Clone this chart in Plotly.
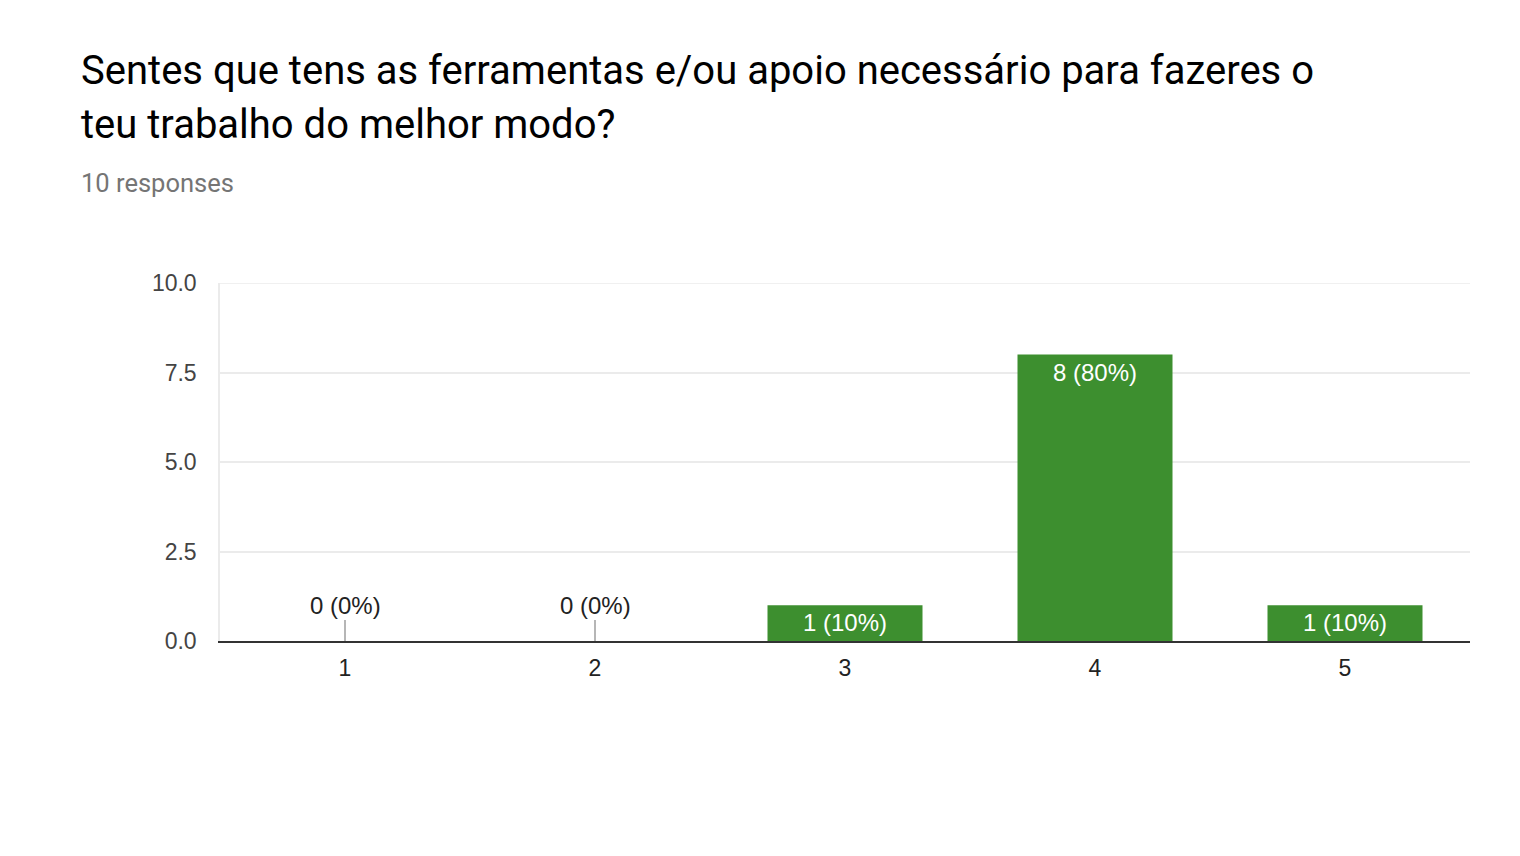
import plotly.graph_objects as go

categories = ["1", "2", "3", "4", "5"]
counts = [0, 0, 1, 8, 1]
percents = ["0%", "0%", "10%", "80%", "10%"]
y_ticks = [0, 2.5, 5, 7.5, 10]
y_tick_labels = ["0.0", "2.5", "5.0", "7.5", "10.0"]
title_lines = ["Sentes que tens as ferramentas e/ou apoio necessário para fazeres o",
               "teu trabalho do melhor modo?"]
subtitle = "10 responses"

GREEN = "#3d8f2f"
GRID = "#ebebeb"
W, H = 1520, 856
L, R, T, B = 220, 50, 283, 215
plot_h = H - T - B
plot_w = W - L - R

def px_x(p):
    return (p - L) / plot_w

def px_y(p):
    return (H - B - p) / plot_h

fig = go.Figure()
fig.add_trace(go.Bar(
    x=categories, y=counts, marker_color=GREEN, marker_line_width=0,
    hoverinfo="skip",
))

annotations = []
for i, (v, p) in enumerate(zip(counts, percents)):
    label = f"{v} ({p})"
    if v > 0:
        annotations.append(dict(
            x=i, y=v, xref="x", yref="y", text=label, showarrow=False,
            yanchor="top", yshift=-2,
            font=dict(family="Liberation Sans, Arial", size=24, color="white"),
        ))
    else:
        annotations.append(dict(
            x=i, y=v, xref="x", yref="y", text=label, showarrow=True,
            arrowhead=0, arrowwidth=1.5, arrowcolor="#9e9e9e", ax=0, ay=-36,
            font=dict(family="Liberation Sans, Arial", size=24, color="#222222"),
        ))

annotations.append(dict(
    x=px_x(79), y=px_y(70), xref="paper", yref="paper", text=title_lines[0],
    showarrow=False, xanchor="left", yanchor="middle",
    font=dict(family="Roboto", size=40, color="#000000"),
))
annotations.append(dict(
    x=px_x(79), y=px_y(124), xref="paper", yref="paper", text=title_lines[1],
    showarrow=False, xanchor="left", yanchor="middle",
    font=dict(family="Roboto", size=40, color="#000000"),
))
annotations.append(dict(
    x=px_x(79), y=px_y(183), xref="paper", yref="paper", text=subtitle,
    showarrow=False, xanchor="left", yanchor="middle",
    font=dict(family="Roboto", size=25.5, color="#757575"),
))

fig.add_shape(type="line", xref="paper", yref="y", x0=0, x1=1, y0=y_ticks[-1], y1=y_ticks[-1],
              line=dict(color=GRID, width=1.5), layer="below")

fig.update_layout(
    width=W, height=H,
    margin=dict(l=L, r=R, t=T, b=B, pad=0),
    paper_bgcolor="white", plot_bgcolor="white",
    bargap=0.38, showlegend=False,
    annotations=annotations,
    xaxis=dict(
        type="category",
        showgrid=False, showline=True, linecolor="#333333", linewidth=2,
        ticks="outside", ticklen=5, tickcolor="rgba(0,0,0,0)",
        tickfont=dict(family="Liberation Sans, Arial", size=23, color="#222222"),
        zeroline=False,
    ),
    yaxis=dict(
        range=[0, 10], tickvals=y_ticks, ticktext=y_tick_labels,
        showgrid=True, gridcolor=GRID, gridwidth=1.5,
        showline=True, linecolor=GRID, linewidth=1.5,
        ticks="outside", ticklen=17, tickcolor="rgba(0,0,0,0)",
        tickfont=dict(family="Liberation Sans, Arial", size=23, color="#444444"),
        zeroline=False,
    ),
)

fig.write_html("out.html")
